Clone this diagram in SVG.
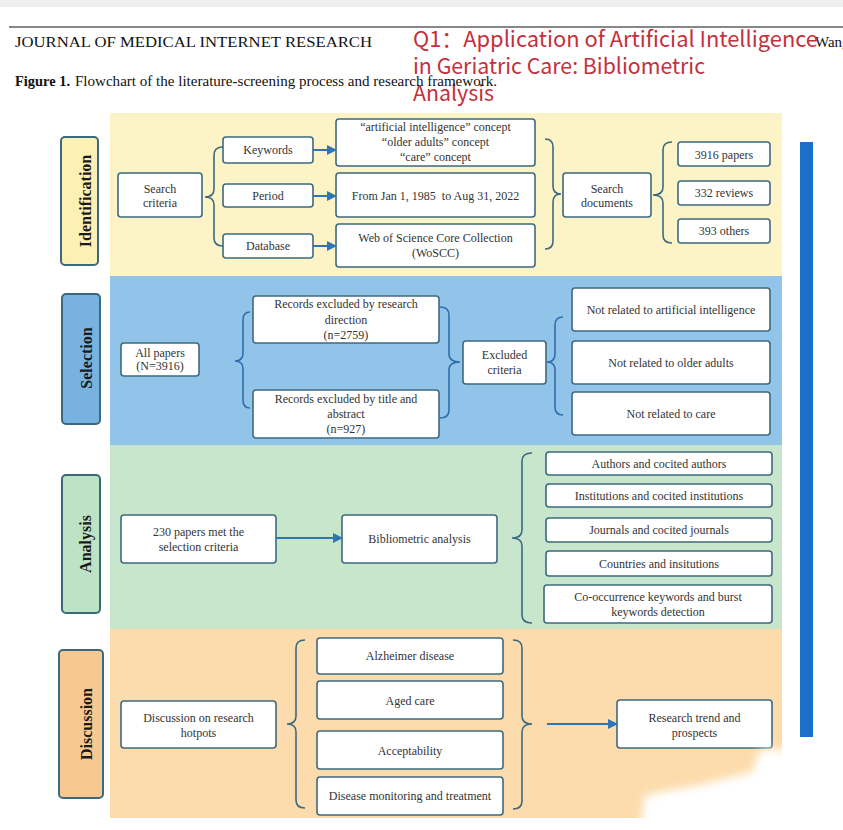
<svg xmlns="http://www.w3.org/2000/svg" width="843" height="830" viewBox="0 0 843 830">
<defs>
<style>
.t{font-family:"Liberation Serif","Times New Roman",serif;font-size:12px;fill:#333;text-anchor:middle}
.lbl{font-family:"Liberation Serif","Times New Roman",serif;font-size:16px;font-weight:bold;fill:#1a1a1a;text-anchor:middle}
.box{fill:#fff;stroke:#3d6a80;stroke-width:1.6}
.side{stroke:#3b6a7c;stroke-width:2}
.br{fill:none;stroke:#3d6a80;stroke-width:1.6}
.brb{fill:none;stroke:#2f6fad;stroke-width:1.6}
.arr{stroke:#2e75b6;stroke-width:2;fill:none;marker-end:url(#ah)}
.red{font-family:"Noto Sans CJK SC","Noto Sans",sans-serif;font-size:22px;fill:#c4303c}
</style>
<marker id="ah" viewBox="0 0 10 10" refX="9" refY="5" markerWidth="5" markerHeight="5" orient="auto" markerUnits="strokeWidth">
<path d="M0,0 L10,5 L0,10 z" fill="#2e75b6"/>
</marker>
<filter id="blur" x="-20%" y="-20%" width="140%" height="140%"><feGaussianBlur stdDeviation="4"/></filter>
</defs>
<rect width="843" height="830" fill="#fff"/>
<rect x="0" y="0" width="843" height="7" fill="#efefef"/>

<!-- header -->
<g id="header">
<line x1="9" y1="27" x2="843" y2="27" stroke="#111" stroke-width="1.2"/>
<text x="15" y="47" font-family="Liberation Serif,serif" font-size="15" fill="#111" textLength="357" lengthAdjust="spacingAndGlyphs">JOURNAL OF MEDICAL INTERNET RESEARCH</text>
<text x="815" y="47" font-family="Liberation Serif,serif" font-size="15" fill="#111">Wang e</text>
<text x="413" y="47" class="red" textLength="405" lengthAdjust="spacingAndGlyphs">Q1：Application of Artificial Intelligence</text>
<text x="413" y="74" class="red" textLength="292" lengthAdjust="spacingAndGlyphs">in Geriatric Care: Bibliometric</text>
<text x="413" y="101" class="red" textLength="81" lengthAdjust="spacingAndGlyphs">Analysis</text>
<text x="15" y="86" font-family="Liberation Serif,serif" font-size="14" fill="#111" font-weight="bold" textLength="55" lengthAdjust="spacingAndGlyphs">Figure 1.</text>
<text x="75" y="86" font-family="Liberation Serif,serif" font-size="14" fill="#111" textLength="422" lengthAdjust="spacingAndGlyphs">Flowchart of the literature-screening process and research framework.</text>
</g>

<!-- bands -->
<g id="bands">
<rect x="110" y="113" width="672" height="163" fill="#fcf3c6"/>
<rect x="110" y="276" width="672" height="169" fill="#92c4ea"/>
<rect x="110" y="445" width="672" height="184" fill="#c7e6cc"/>
<rect x="110" y="629" width="672" height="189" fill="#fcdcac"/>
<rect x="800" y="142" width="13" height="595" fill="#1a6fc8"/>
</g>

<!-- side labels -->
<g id="lbl-identification"><rect class="side" x="61" y="137" width="37" height="128" rx="4" fill="#fcf0b4"/><text class="lbl" transform="translate(91,201) rotate(-90)">Identification</text></g>
<g id="lbl-selection"><rect class="side" x="62" y="294" width="38" height="130" rx="4" fill="#78b2e0"/><text class="lbl" transform="translate(92,358) rotate(-90)">Selection</text></g>
<g id="lbl-analysis"><rect class="side" x="62" y="475" width="38" height="138" rx="4" fill="#bde3c6"/><text class="lbl" transform="translate(91,544) rotate(-90)">Analysis</text></g>
<g id="lbl-discussion"><rect class="side" x="59" y="650" width="44" height="148" rx="4" fill="#f6c992"/><text class="lbl" transform="translate(92,724) rotate(-90)">Discussion</text></g>

<!-- Identification nodes -->
<g id="search-criteria"><rect class="box" x="118" y="173" width="84" height="44" rx="3"/><text class="t" x="160" y="193">Search</text><text class="t" x="160" y="207">criteria</text></g>
<g id="keywords"><rect class="box" x="223" y="137" width="90" height="26" rx="3"/><text class="t" x="268" y="154">Keywords</text></g>
<g id="period"><rect class="box" x="223" y="184" width="90" height="23" rx="3"/><text class="t" x="268" y="200">Period</text></g>
<g id="database"><rect class="box" x="223" y="234" width="90" height="24" rx="3"/><text class="t" x="268" y="250">Database</text></g>
<g id="concepts"><rect class="box" x="336" y="119" width="199" height="47" rx="3"/><text class="t" x="435.5" y="131">“artificial intelligence” concept</text><text class="t" x="435.5" y="146">“older adults” concept</text><text class="t" x="435.5" y="161">“care” concept</text></g>
<g id="dates"><rect class="box" x="336" y="173" width="199" height="44" rx="3"/><text class="t" x="435.5" y="200" xml:space="preserve">From Jan 1, 1985  to Aug 31, 2022</text></g>
<g id="wos"><rect class="box" x="336" y="224" width="199" height="43" rx="3"/><text class="t" x="435.5" y="242">Web of Science Core Collection</text><text class="t" x="435.5" y="257">(WoSCC)</text></g>
<g id="search-documents"><rect class="box" x="563" y="173" width="88" height="44" rx="3"/><text class="t" x="607" y="193">Search</text><text class="t" x="607" y="207">documents</text></g>
<g id="papers"><rect class="box" x="678" y="142" width="92" height="24" rx="3"/><text class="t" x="724" y="159">3916 papers</text></g>
<g id="reviews"><rect class="box" x="678" y="181" width="92" height="24" rx="3"/><text class="t" x="724" y="197">332 reviews</text></g>
<g id="others"><rect class="box" x="678" y="219" width="92" height="24" rx="3"/><text class="t" x="724" y="235">393 others</text></g>

<!-- Selection nodes -->
<g id="all-papers"><rect class="box" x="121" y="343" width="78" height="33" rx="3"/><text class="t" x="160" y="357">All papers</text><text class="t" x="160" y="370">(N=3916)</text></g>
<g id="excl-direction"><rect class="box" x="253" y="296" width="186" height="47" rx="3"/><text class="t" x="346" y="308">Records excluded by research</text><text class="t" x="346" y="324">direction</text><text class="t" x="346" y="339">(n=2759)</text></g>
<g id="excl-title"><rect class="box" x="253" y="390" width="186" height="48" rx="3"/><text class="t" x="346" y="403">Records excluded by title and</text><text class="t" x="346" y="418">abstract</text><text class="t" x="346" y="433">(n=927)</text></g>
<g id="excluded-criteria"><rect class="box" x="463" y="341" width="83" height="43" rx="3"/><text class="t" x="504.5" y="359">Excluded</text><text class="t" x="504.5" y="374">criteria</text></g>
<g id="not-ai"><rect class="box" x="572" y="288" width="198" height="43" rx="3"/><text class="t" x="671" y="314">Not related to artificial intelligence</text></g>
<g id="not-older"><rect class="box" x="572" y="341" width="198" height="43" rx="3"/><text class="t" x="671" y="367">Not related to older adults</text></g>
<g id="not-care"><rect class="box" x="572" y="392" width="198" height="43" rx="3"/><text class="t" x="671" y="418">Not related to care</text></g>

<!-- Analysis nodes -->
<g id="met-criteria"><rect class="box" x="121" y="515" width="155" height="48" rx="3"/><text class="t" x="198.5" y="536">230 papers met the</text><text class="t" x="198.5" y="551">selection criteria</text></g>
<g id="bibliometric"><rect class="box" x="342" y="515" width="155" height="48" rx="3"/><text class="t" x="419.5" y="543">Bibliometric analysis</text></g>
<g id="authors"><rect class="box" x="546" y="452" width="226" height="23" rx="3"/><text class="t" x="659" y="468">Authors and cocited authors</text></g>
<g id="institutions"><rect class="box" x="546" y="484" width="226" height="23" rx="3"/><text class="t" x="659" y="500">Institutions and cocited institutions</text></g>
<g id="journals"><rect class="box" x="546" y="518" width="226" height="24" rx="3"/><text class="t" x="659" y="534">Journals and cocited journals</text></g>
<g id="countries"><rect class="box" x="546" y="551" width="226" height="25" rx="3"/><text class="t" x="659" y="568">Countries and insitutions</text></g>
<g id="cooccurrence"><rect class="box" x="544" y="585" width="228" height="38" rx="3"/><text class="t" x="658" y="601">Co-occurrence keywords and burst</text><text class="t" x="658" y="616">keywords detection</text></g>

<!-- Discussion nodes -->
<g id="hotpots"><rect class="box" x="121" y="701" width="155" height="47" rx="3"/><text class="t" x="198.5" y="722">Discussion on research</text><text class="t" x="198.5" y="737">hotpots</text></g>
<g id="alzheimer"><rect class="box" x="317" y="638" width="186" height="36" rx="3"/><text class="t" x="410" y="660">Alzheimer disease</text></g>
<g id="aged-care"><rect class="box" x="317" y="681" width="186" height="38" rx="3"/><text class="t" x="410" y="705">Aged care</text></g>
<g id="acceptability"><rect class="box" x="317" y="731" width="186" height="38" rx="3"/><text class="t" x="410" y="755">Acceptability</text></g>
<g id="monitoring"><rect class="box" x="317" y="777" width="186" height="38" rx="3"/><text class="t" x="410" y="800">Disease monitoring and treatment</text></g>
<g id="trend"><rect class="box" x="617" y="700" width="155" height="48" rx="3"/><text class="t" x="694.5" y="722">Research trend and</text><text class="t" x="694.5" y="737">prospects</text></g>

<!-- connectors -->
<g id="connectors">
<path class="br" d="M223,147 Q214,147 214,155 L214,189 Q214,197 205,197 Q214,197 214,205 L214,238 Q214,246 223,246"/>
<path class="br" d="M545,139 Q553,139 553,147 L553,186 Q553,194 561,194 Q553,194 553,202 L553,241 Q553,249 545,249"/>
<path class="br" d="M672,142 Q663,142 663,150 L663,187 Q663,195 653,195 Q663,195 663,203 L663,235 Q663,243 672,243"/>
<path class="brb" d="M250,312 Q243,312 243,320 L243,353 Q243,361 235,361 Q243,361 243,369 L243,400 Q243,408 250,408"/>
<path class="brb" d="M440,307 Q449,307 449,315 L449,354 Q449,362 460,362 Q449,362 449,370 L449,410 Q449,418 440,418"/>
<path class="brb" d="M563,317 Q555,317 555,325 L555,354 Q555,362 547,362 Q555,362 555,370 L555,407 Q555,415 563,415"/>
<path class="br" d="M532,453 Q522,453 522,461 L522,530 Q522,538 512,538 Q522,538 522,546 L522,615 Q522,623 532,623"/>
<path class="br" d="M305,640 Q296,640 296,648 L296,716 Q296,724 287,724 Q296,724 296,732 L296,800 Q296,808 305,808"/>
<path class="br" d="M513,640 Q522,640 522,648 L522,716 Q522,724 532,724 Q522,724 522,732 L522,801 Q522,809 513,809"/>
<line class="arr" x1="313" y1="150" x2="336" y2="150"/>
<line class="arr" x1="313" y1="196" x2="336" y2="196"/>
<line class="arr" x1="313" y1="246" x2="336" y2="246"/>
<line class="arr" x1="276" y1="538" x2="342" y2="538"/>
<line class="arr" x1="547" y1="724" x2="617" y2="724"/>
</g>

<!-- smudge -->
<path d="M760,750 L843,748 L843,830 L640,830 L645,795 L700,785 L752,772 Z" fill="#fff" filter="url(#blur)"/>
</svg>
